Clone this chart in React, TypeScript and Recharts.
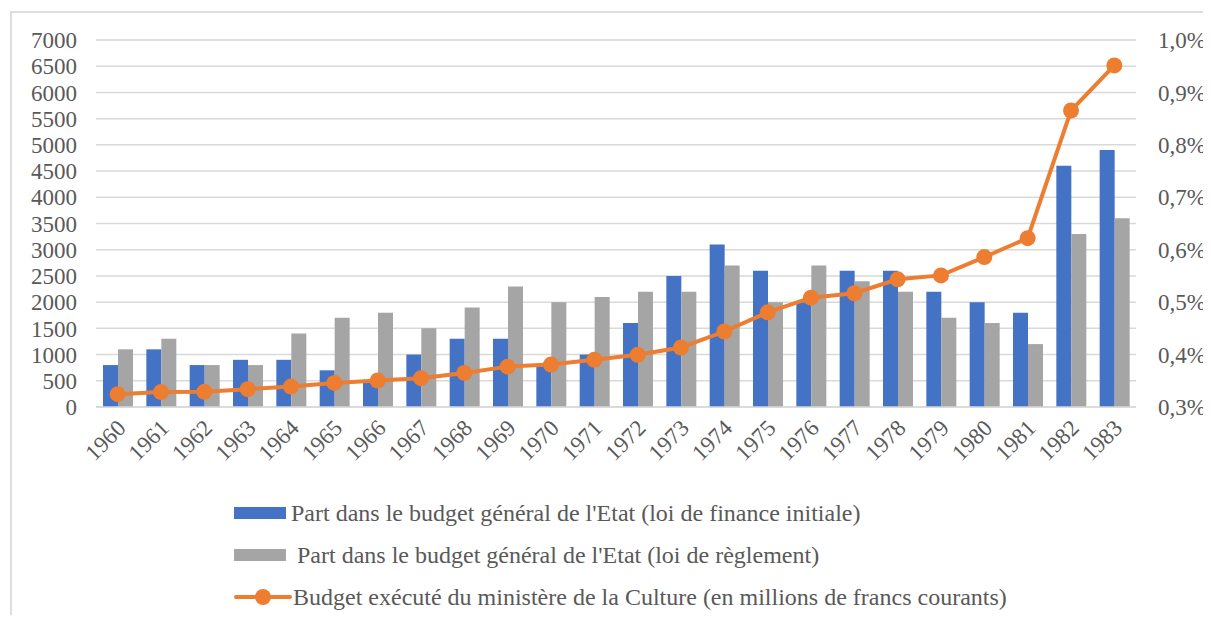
import React from "react";
import {
  ComposedChart,
  Bar,
  Line,
  XAxis,
  YAxis,
  CartesianGrid,
} from "recharts";

const years = [
  "1960", "1961", "1962", "1963", "1964", "1965", "1966", "1967",
  "1968", "1969", "1970", "1971", "1972", "1973", "1974", "1975",
  "1976", "1977", "1978", "1979", "1980", "1981", "1982", "1983",
];

// part dans le budget de l'Etat, loi de finance initiale (%)
const partInitiale = [
  0.38, 0.41, 0.38, 0.39, 0.39, 0.37, 0.35, 0.4, 0.43, 0.43, 0.38, 0.4,
  0.46, 0.55, 0.61, 0.56, 0.5, 0.56, 0.56, 0.52, 0.5, 0.48, 0.76, 0.79,
];

// part dans le budget de l'Etat, loi de règlement (%)
const partReglement = [
  0.41, 0.43, 0.38, 0.38, 0.44, 0.47, 0.48, 0.45, 0.49, 0.53, 0.5, 0.51,
  0.52, 0.52, 0.57, 0.5, 0.57, 0.54, 0.52, 0.47, 0.46, 0.42, 0.63, 0.66,
];

// budget exécuté (millions de francs courants)
const budgetExecute = [
  245, 285, 290, 340, 390, 460, 505, 550, 650, 770, 810, 900,
  995, 1135, 1440, 1805, 2085, 2170, 2435, 2510, 2860, 3220, 5655, 6515,
];

const leftTicks = [0, 500, 1000, 1500, 2000, 2500, 3000, 3500, 4000, 4500, 5000, 5500, 6000, 6500, 7000];
const rightTicks = [0.3, 0.4, 0.5, 0.6, 0.7, 0.8, 0.9, 1.0];

const labelInitiale = "Part dans le budget général de l'Etat (loi de finance initiale)";
const labelReglement = " Part dans le budget général de l'Etat (loi de règlement)";
const labelBudget = "Budget exécuté du ministère de la Culture (en millions de francs courants)";

const data = years.map((year, i) => ({
  year,
  initiale: partInitiale[i],
  reglement: partReglement[i],
  budget: budgetExecute[i],
}));

const FONT = '"Times New Roman", "Liberation Serif", "DejaVu Serif", serif';
const TEXT = "#595959";
const BLUE = "#4472C4";
const GREY = "#A5A5A5";
const ORANGE = "#ED7D31";

const YearTick = (props: any) => {
  const { x, y, payload } = props;
  const tx = x - 2;
  const ty = y + 3;
  return (
    <text
      x={tx}
      y={ty}
      transform={`rotate(-45, ${tx}, ${ty})`}
      textAnchor="end"
      dy="0.7em"
      fill={TEXT}
      fontSize={23}
      fontFamily={FONT}
    >
      {payload.value}
    </text>
  );
};

const LegendBox = () => {
  const row: React.CSSProperties = {
    display: "flex",
    alignItems: "center",
    height: 42,
    whiteSpace: "pre",
  };
  return (
    <div style={{ fontFamily: FONT, fontSize: 24, color: TEXT }}>
      <div style={row}>
        <span style={{ width: 52, height: 12, background: BLUE, marginRight: 5 }} />
        <span>{labelInitiale}</span>
      </div>
      <div style={row}>
        <span style={{ width: 52, height: 12, background: GREY, marginRight: 5 }} />
        <span>{labelReglement}</span>
      </div>
      <div style={row}>
        <svg width={58} height={18} style={{ marginRight: 1 }}>
          <line x1={2} y1={9} x2={56} y2={9} stroke={ORANGE} strokeWidth={4} strokeLinecap="round" />
          <circle cx={29} cy={9} r={8} fill={ORANGE} />
        </svg>
        <span>{labelBudget}</span>
      </div>
    </div>
  );
};

export default function App() {
  return (
    <div
      style={{
        position: "relative",
        width: 1211,
        height: 623,
        margin: -8,
        background: "#fff",
        overflow: "hidden",
      }}
    >
      {/* cadre du graphique, coupé à droite et en bas */}
      <div
        style={{
          position: "absolute",
          left: 10,
          top: 11,
          width: 1400,
          height: 800,
          border: "2px solid #dedede",
          boxSizing: "border-box",
        }}
      />
      <div style={{ position: "absolute", left: 0, top: 0 }}>
        <ComposedChart
          width={1211}
          height={623}
          data={data}
          margin={{ top: 40, right: 0, bottom: 0, left: 0 }}
          barCategoryGap={7}
          barGap={0}
        >
          <CartesianGrid
            yAxisId="left"
            vertical={false}
            stroke="#d9d9d9"
            strokeWidth={1.5}
          />
          <XAxis
            dataKey="year"
            tick={<YearTick />}
            tickLine={false}
            axisLine={{ stroke: "#d9d9d9", strokeWidth: 1.5 }}
            interval={0}
            height={216}
          />
          <YAxis
            yAxisId="left"
            orientation="left"
            domain={[0, 7000]}
            ticks={leftTicks}
            interval={0}
            width={96}
            tickLine={false}
            axisLine={false}
            tickMargin={13}
            tick={{ fill: TEXT, fontSize: 23, fontFamily: FONT }}
          />
          <YAxis
            yAxisId="right"
            orientation="right"
            domain={[0.3, 1.0]}
            ticks={rightTicks}
            interval={0}
            width={75}
            tickLine={false}
            axisLine={false}
            tickMargin={16}
            tickFormatter={(v: number) => v.toFixed(1).replace(".", ",") + "%"}
            tick={{ fill: TEXT, fontSize: 23, fontFamily: FONT, textAnchor: "start" }}
          />
          <Bar
            yAxisId="right"
            dataKey="initiale"
            name={labelInitiale}
            fill={BLUE}
            isAnimationActive={false}
          />
          <Bar
            yAxisId="right"
            dataKey="reglement"
            name={labelReglement}
            fill={GREY}
            isAnimationActive={false}
          />
          <Line
            yAxisId="left"
            dataKey="budget"
            name={labelBudget}
            stroke={ORANGE}
            strokeWidth={4}
            dot={{ r: 8, fill: ORANGE, stroke: ORANGE, strokeWidth: 0 }}
            activeDot={false}
            isAnimationActive={false}
          />
        </ComposedChart>
      </div>
      <div style={{ position: "absolute", left: 234, top: 492 }}>
        <LegendBox />
      </div>
    </div>
  );
}
